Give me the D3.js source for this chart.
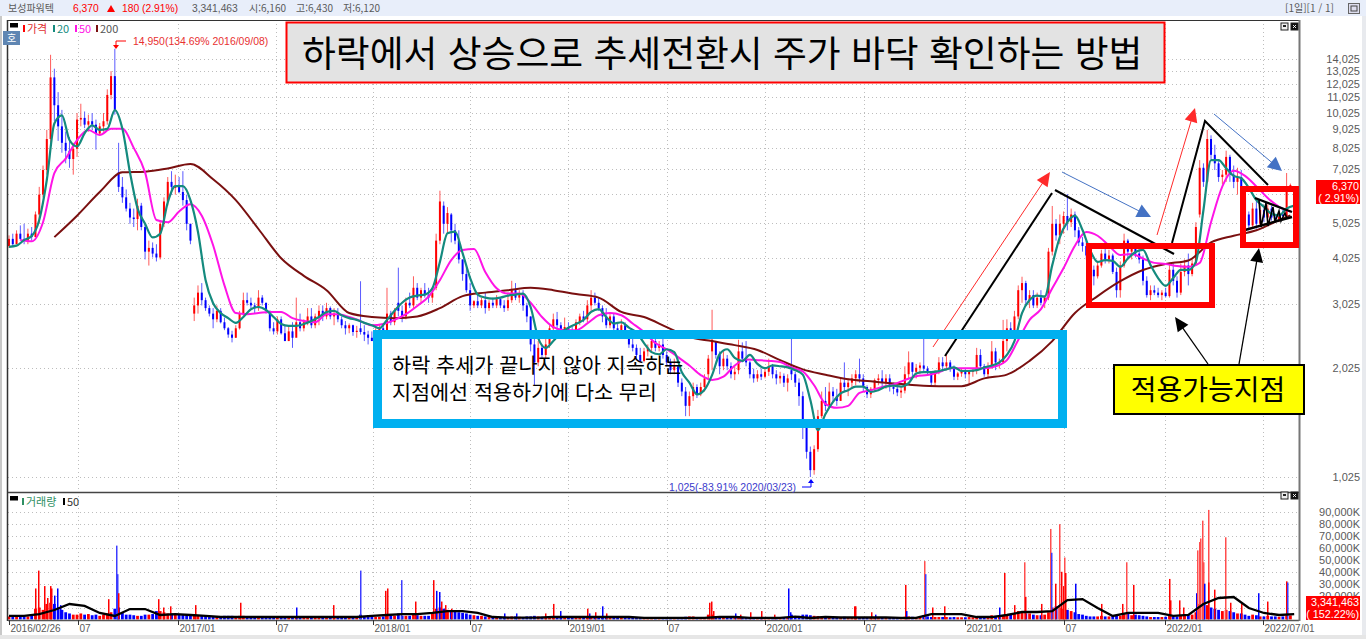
<!DOCTYPE html>
<html lang="ko">
<head>
<meta charset="utf-8">
<script src="https://cdnjs.cloudflare.com/ajax/libs/d3/7.8.5/d3.min.js"></script>
<style>
html,body{margin:0;padding:0;background:#fff;overflow:hidden}
svg{display:block}
text{font-family:"Liberation Sans",sans-serif}
.kr{font-family:"Noto Sans CJK KR",sans-serif}
</style>
</head>
<body>
<svg id="c" width="1366" height="639"></svg>
<script>
// ---------- data: one candle per week-slot, prices in KRW, volume in thousands ----------
const priceTicks=[14025,13025,12025,11025,10025,9025,8025,7025,6025,5025,4025,3025,2025,1025];
const priceLabels=[14025,13025,12025,11025,10025,9025,8025,7025,5025,4025,3025,2025,1025];
const volumeTicks=[90000,80000,70000,60000,50000,40000,30000,20000,10000];
const volumeLabels=[90000,80000,70000,60000,50000,40000,30000,20000];
const dateTickSlots=[0,18.25,44.7,70.6,96.3,122,147.9,174,200,226.2,252.9,279,305.8,331.7];
const dateTickLabels=["2016/02/26","07","2017/01","07","2018/01","07","2019/01","07","2020/01","07","2021/01","07","2022/01","2022/07/01"];

const high=[4650,4700,4800,4950,5000,4850,4900,5400,6300,7200,9000,14400,13200,11400,10200,8900,8600,8300,10000,10600,
10100,9900,10000,9600,9400,10000,11600,13000,14950,8300,6700,6200,5700,5500,5850,5700,5000,4500,4450,4400,
5100,5900,6700,6950,6800,6700,6950,6000,5000,3150,3400,3450,3150,3000,2950,3000,2950,2780,2620,2560,
2650,2900,3250,3250,3150,3050,3300,3200,3050,2900,2700,2800,2800,2650,2650,2700,3150,2850,2750,2950,
2950,2850,3000,3000,3050,2980,2950,2950,2800,2720,2680,2660,2640,3490,2650,2560,2550,2600,2650,2680,
3350,2900,2950,3800,3000,3150,3250,3600,3450,3350,3450,3350,3350,4700,6150,5750,5550,5350,5000,4800,
4000,3800,3450,3100,3200,3150,3250,3100,3150,3200,3150,3100,3250,3500,3450,3300,3300,3050,2800,2500,
2400,2350,2450,2650,2850,2880,2700,2780,2700,2620,2750,2850,2900,3100,3300,3250,3150,3000,2950,2850,
2850,2700,2750,2700,2550,2450,2350,2300,2300,2350,2450,2450,2400,2450,2250,2150,2150,2050,1900,1800,
1750,1850,1830,1850,1950,2200,2920,2400,2250,2250,2200,2100,2050,2420,2380,2400,2120,2020,2000,2020,
2020,2150,2080,2000,1980,1960,1950,2440,1980,1900,1750,1450,1240,1250,1560,1750,1800,1850,1800,1780,
1900,2100,1900,1950,2000,2150,1950,1820,1800,1900,1950,2000,1950,1950,1850,1820,1800,2050,2250,2100,
2080,2100,2450,2050,1990,2000,2170,2170,2200,2130,2060,1980,2020,2020,2000,2020,2300,2280,2080,2100,
2400,2300,2150,2740,2750,2700,2900,3400,3590,3500,3300,3300,3250,3300,3200,4300,5590,5150,5300,5400,
6020,5500,5400,4900,4600,4500,4200,3850,3950,4250,4300,4250,4150,3800,3950,4700,4550,4400,4400,4250,
4100,3600,3400,3400,3350,3300,3350,3900,3900,3600,3900,4000,4150,4000,5050,7450,7300,9000,8700,8200,
7400,7000,7900,7700,7200,7100,7000,6000,5400,5700,5850,5600,5500,5650,5600,5300,5350,5450,6870,6430];
const low=[4300,4350,4400,4500,4400,4400,4500,4600,5000,5900,6800,8300,9500,8400,7800,7300,7100,6800,7600,9200,
9100,8900,9000,7950,8700,8900,9300,10900,9900,6100,5700,5400,5000,4900,4800,4800,4000,3850,4050,3950,
4000,4900,5600,6000,6000,6050,5600,4800,4400,2720,2850,3000,2900,2800,2600,2700,2680,2570,2450,2380,
2450,2580,2800,3000,2950,2850,2900,3000,2850,2550,2500,2500,2500,2400,2400,2300,2500,2550,2550,2650,
2600,2600,2650,2720,2750,2750,2650,2700,2600,2500,2520,2480,2450,2500,2400,2350,2430,2380,2450,2480,
2530,2650,2650,2800,2700,2750,2950,2950,3100,3050,3150,3050,3050,3300,4400,4700,4700,4450,4400,3900,
3500,3250,2900,2950,2950,2950,2850,2900,2950,2950,2950,2880,2900,3050,3100,3050,2900,2700,2250,1820,
2050,2150,2150,2300,2550,2550,2500,2450,2500,2480,2480,2650,2700,2700,2900,3000,2900,2700,2600,2600,
2550,2500,2500,2450,2300,2250,2150,2100,2100,2180,2250,2250,2250,2150,2050,1950,1950,1800,1700,1500,
1500,1650,1680,1700,1750,1900,2000,2150,1950,2000,2000,1900,1880,1950,2100,2050,1900,1850,1860,1880,
1900,1930,1900,1830,1840,1800,1750,1880,1800,1600,1300,1150,1025,1040,1200,1480,1550,1580,1650,1600,
1650,1750,1700,1800,1820,1850,1750,1680,1680,1750,1820,1800,1780,1750,1720,1700,1680,1730,1900,1900,
1900,1950,1980,1930,1800,1800,1950,1980,2000,1980,1880,1880,1920,1900,1820,1920,1950,2000,1920,1900,
2020,2000,2020,2080,2250,2480,2500,2750,3050,3000,2950,2950,2950,3000,2950,3100,4100,4500,4400,4700,
4800,4900,4600,4350,4200,4000,3650,3400,3550,3800,3900,3900,3650,3150,3150,3800,4000,4000,4050,3900,
3400,3150,3100,3200,3150,3100,3150,3150,3400,3150,3200,3600,3400,3600,3850,5200,6300,6450,7500,7000,
6500,6400,6500,6500,6250,6000,5700,5100,4800,4850,4850,4950,5050,5000,5100,5050,5050,5150,5200,6120];
const open=[4350,4550,4400,4700,4550,4500,4700,4600,5300,6000,7000,8500,12500,10500,9200,8300,7900,7500,8000,9600,
9700,9300,9500,9300,8800,9200,9500,11200,12600,6900,6300,5900,5500,5200,5150,5600,4900,4200,4300,4150,
4050,5000,5750,6500,6300,6300,6100,5800,5000,2850,3000,3250,3100,2950,2850,2750,2900,2700,2600,2500,
2450,2600,2850,3100,3050,3000,2950,3150,3050,2900,2600,2550,2750,2520,2400,2550,2450,2700,2600,2700,
2800,2650,2800,2900,2800,2950,2800,2850,2750,2650,2600,2650,2540,2600,2540,2500,2450,2400,2500,2600,
2550,2850,2700,3050,2900,2800,3050,3000,3350,3150,3300,3200,3150,3350,4500,5600,5000,5300,4800,4500,
4000,3650,3300,3000,3080,3000,3100,2950,3050,3000,3120,3000,2950,3100,3300,3150,3200,3000,2800,2350,
2100,2300,2200,2350,2600,2750,2650,2550,2620,2550,2500,2700,2800,2750,3000,3150,3050,2950,2800,2650,
2800,2600,2550,2650,2500,2350,2300,2200,2120,2250,2300,2400,2300,2350,2200,2100,2000,2050,1850,1750,
1600,1700,1800,1720,1800,1950,2250,2400,2200,2050,2150,2050,1950,2000,2250,2150,2100,1950,1900,1950,
1920,1980,2050,1950,1900,1930,1850,2000,1950,1850,1700,1400,1200,1070,1220,1500,1650,1600,1750,1700,
1650,1850,1800,1850,1900,1950,1900,1800,1720,1780,1880,1900,1850,1900,1800,1780,1740,1760,1950,2100,
1980,2030,2060,2020,1980,1850,1980,2100,2050,2100,2020,1920,1960,1990,1950,1980,2000,2200,2050,1950,
2050,2250,2100,2100,2400,2600,2550,2800,3300,3450,3100,3200,3000,3150,3050,3150,4200,5000,4650,5000,
5250,5050,5300,4800,4450,4350,4100,3750,3600,3850,4150,4000,4100,3700,3300,3850,4500,4200,4300,4150,
4000,3500,3200,3300,3250,3200,3250,3180,3750,3500,3250,3700,3850,3650,3900,5300,7100,6500,8500,7700,
7300,6700,6800,7600,6800,6500,6700,5900,5300,4950,5500,5000,5450,5200,5500,5200,5150,5300,5250,6160];
const close=[4550,4400,4700,4550,4500,4700,4600,5300,6000,7000,8500,12500,10500,9200,8300,7900,7500,8000,9600,9700,
9300,9500,9300,8800,9200,9500,11200,12600,10200,6300,5900,5500,5200,5150,5600,4900,4200,4300,4150,4050,
5000,5750,6500,6300,6300,6100,5800,5000,4500,3000,3250,3100,2950,2850,2750,2900,2700,2600,2500,2450,
2600,2850,3100,3050,3000,2950,3150,3050,2900,2600,2550,2750,2520,2400,2550,2450,2700,2600,2700,2800,
2650,2800,2900,2800,2950,2800,2850,2750,2650,2600,2650,2540,2560,2540,2500,2450,2400,2500,2600,2550,
2850,2700,2900,2900,2800,3050,3000,3350,3150,3300,3200,3150,3250,4500,5750,5000,5350,4800,4500,4000,
3650,3300,3000,3080,3000,3100,2950,3050,3000,3120,3000,2950,3100,3300,3150,3200,3000,2800,2350,2100,
2300,2200,2350,2600,2750,2650,2550,2620,2550,2500,2700,2800,2750,3000,3150,3050,2950,2800,2650,2800,
2600,2550,2650,2500,2350,2300,2200,2120,2250,2300,2400,2300,2350,2200,2100,2000,2050,1850,1750,1600,
1700,1800,1720,1800,1900,2150,2420,2200,2050,2150,2050,1950,1980,2250,2150,2100,1950,1900,1950,1920,
1980,2050,1950,1900,1930,1850,1900,1950,1850,1700,1400,1200,1070,1220,1500,1650,1600,1750,1700,1650,
1850,1800,1850,1900,1950,1900,1800,1720,1780,1880,1900,1850,1900,1800,1780,1740,1760,1950,2100,1980,
2030,2060,2020,1980,1850,1980,2100,2050,2100,2020,1920,1960,1990,1950,1980,2000,2200,2050,1950,2050,
2250,2100,2100,2400,2600,2550,2800,3300,3450,3100,3200,3000,3150,3050,3150,4200,5000,4650,5000,5250,
5050,5300,4800,4450,4350,4100,3750,3600,3850,4150,4000,4100,3700,3300,3850,4500,4200,4300,4150,4000,
3500,3200,3300,3250,3200,3250,3180,3750,3500,3250,3700,3850,3650,3900,4900,7100,6500,8500,7700,7300,
6700,6800,7600,6800,6500,6700,5900,5300,4950,5500,5000,5450,5200,5500,5200,5150,5300,5250,6200,6370];

// moving averages, one reading every 2 / 3 / 6 slots
const ma20=[4330,4360,4515,4630,5120,6575,9370,9860,8445,8110,8810,9260,9000,9060,10190,9060,6900,5510,5000,4590,
4700,5720,6330,6330,5800,4750,3515,3040,2860,2770,2690,2790,2930,2970,2915,2790,2670,2640,2640,2670,
2720,2790,2880,2900,2820,2770,2740,2690,2650,2600,2740,2900,3050,3150,3190,3210,3340,3940,4710,4760,
4160,3560,3210,3150,3130,3150,3190,3210,3230,2970,2445,2300,2400,2530,2610,2670,2740,2880,2930,2790,
2680,2700,2610,2530,2370,2240,2210,2280,2240,1975,1850,1720,1770,1940,2210,2280,2160,2120,2200,2080,
2025,2060,2050,2035,2000,1945,1660,1375,1520,1640,1730,1765,1805,1805,1745,1765,1805,1815,1805,1845,
1960,1975,1975,1990,2010,2035,1990,1990,2000,2035,2060,2100,2200,2400,2860,3105,3190,3170,3860,4600,
5050,5260,4810,4245,3940,3985,3965,3820,4025,4190,4245,3860,3560,3390,3560,3745,3745,3940,5450,7450,
7450,7080,6750,6650,6260,5800,5560,5320,5270,5500,5600];
const ma50=[4515,4480,5050,6870,7520,8445,8990,8720,9060,9060,8040,6900,5120,5050,5400,5650,5260,4370,3400,2860,
2840,2860,2880,2880,2770,2720,2700,2840,2840,2790,2720,2650,2670,2740,2840,2990,3170,3515,3985,4245,
4270,3700,3340,3230,3230,3050,2790,2620,2570,2570,2680,2820,2860,2820,2680,2540,2370,2280,2170,2060,
1940,1880,1920,2060,2140,2130,2120,2105,2035,1985,1820,1620,1580,1600,1735,1765,1800,1830,1880,1925,
1940,1975,2025,2025,2025,2025,2050,2130,2415,2740,2930,3340,3790,4360,4750,4640,4360,4115,4140,4025,
3915,3890,3840,3820,3915,5050,6320,6970,6750,6320,5880,5560,5400];
const ma200=[4600,5260,6100,6900,6930,7070,7270,6610,5800,4840,4030,3610,3300,2860,2790,2770,2800,2950,3180,3250,
3300,3350,3300,3220,3150,2880,2790,2620,2460,2400,2340,2270,2130,2010,1945,1890,1865,1840,1820,1810,
1810,1900,1945,2120,2400,2860,3180,3490,3745,3890,3975,4450,4640,4800,5120];
const ma200Last=5270;

// weekly base volume (thousand shares)
const volume=[2500,2000,2000,3000,2500,2500,3000,9000,10000,8000,13000,14000,13000,10000,8000,6000,5000,4000,4000,5000,
4000,4500,3500,4000,3000,4000,5000,6000,9000,10000,6000,4000,4000,3500,3000,3000,4000,4000,4500,7000,
7000,6000,5000,5000,4000,4000,4000,3000,3000,4000,3500,3000,3000,2500,2500,2500,2500,3000,3000,3000,
2500,3000,3000,2500,2500,2500,2200,2000,2000,2200,2000,2200,2000,2000,2000,2000,2500,2200,2000,2000,
2000,2200,2000,2000,2000,2000,2200,2000,2000,2000,2000,2000,2000,4000,2500,2000,2000,2000,2200,2500,
4000,3000,3000,5000,3000,3000,3000,4000,3500,3000,3000,3000,6000,9000,10000,9000,8000,7000,7000,6000,
5500,5000,4000,3500,3000,3000,2500,2500,2500,2500,2200,2200,2200,2500,2500,2200,2000,2500,2500,3000,
2500,2200,2000,2000,2200,2000,2000,2000,2500,2000,2000,2200,2000,2500,2200,2000,2000,2000,2200,2000,
2000,2000,2000,2000,1800,1800,1800,1800,2000,1800,1800,1800,1800,1800,1800,2000,1800,1800,1800,2200,
2500,2500,2000,2000,2000,4000,4000,2800,2200,2000,1800,2000,2000,2500,2000,2000,1800,1800,2000,1800,
1800,1800,2000,1800,1800,1800,1800,4000,2500,3000,4000,4000,3500,3000,2800,2500,2200,2200,2000,2000,
2000,2200,2000,2000,1800,2000,2000,1800,1800,2000,2000,2000,2000,1800,1800,1800,1800,2200,2500,2200,
2000,2000,3500,2500,2000,2000,2000,2000,2000,1800,2000,1800,1800,1800,2000,1800,2000,2000,2000,2000,
3500,3000,2500,3000,3500,4000,4500,7000,6000,5000,5000,4000,3500,3500,4000,6000,10000,11000,10000,9000,
8000,7000,6000,4500,4000,3000,2500,2500,2500,3000,2500,2500,3000,3500,3000,4500,5000,3500,4000,3500,
3000,2500,2000,2000,2000,2000,2200,3500,2500,2500,3000,3500,4000,4000,6000,13000,11000,12000,10000,9000,
8000,7000,8000,7000,6000,5000,5000,4000,3000,4000,3500,2500,2500,3000,2500,2500,2200,2500,3300,3341];
const volume50=[2900,2900,4500,7900,12900,11300,5400,2900,8700,8700,3700,4500,3700,2900,2000,2000,2000,2000,2000,2000,
2000,2000,2000,2000,2900,3700,4500,4500,5400,7000,7000,5400,2000,1500,1500,1500,2000,2000,2000,2000,
2000,2000,1200,1200,1200,1200,1200,2000,2000,1200,1200,1200,2400,1200,2000,1600,1600,1600,1600,1200,
1200,4500,4500,4500,2000,2000,3700,6200,6200,7000,16300,17100,9600,2900,5400,5400,5400,2900,3700,12900,
18000,18800,9600,5400,3700,4500];
// isolated volume spikes: slot, volume, 1 when the session closed up
const spikeSlot=[6.9,7.7,9.3,10,10.8,11.2,11.9,12.7,13.5,26.2,28.3,28.6,28.8,39.4,40.7,42.6,49.2,61.1,75.9,85.7,
92.9,100,99.6,103.7,107.4,112.2,113,113.8,114.3,115.3,117,131,134,141.8,144,145.8,153,153.5,155,156.8,
158,185.2,185.8,186.3,192,193.5,196,199,202.3,206.2,206.6,223.5,223.9,228,229.1,237,237.3,242,242.3,244.3,
247.3,261.8,263.3,266,268.4,268.9,273,275.5,275.7,276.6,277.7,278.2,278.9,279.2,279.4,281.9,288.9,294.5,295.6,297.4,
307,307.2,309.6,310.7,314,314.3,314.9,315.2,315.7,316,316.2,317.1,317.3,318.9,321.7,323.1,325.9,330.5,332.7,337.8,338.2];
const spikeVol=[26000,41000,28000,18000,28000,26000,20000,26000,12000,17000,62000,38000,22000,17000,10000,11000,12000,14000,10000,12000,
41000,26000,24000,33000,15000,33000,24000,23000,15000,12000,9000,5000,5000,5000,13000,7000,9000,5000,6000,11000,
5000,14000,15000,7000,5000,4000,6000,7000,4000,26000,6000,11000,11000,6000,4000,29000,7000,49000,38000,10000,
11000,10000,39000,12000,48000,19000,13000,76000,56000,30000,80000,40000,28000,52000,39000,30000,13000,13000,48000,29000,
34000,16000,16000,10000,22000,58000,65000,68000,83000,48000,30000,92000,31000,25000,69000,14000,13000,22000,15000,32000,31000];
const spikeUp=[1,1,1,1,1,1,0,0,0,1,0,0,1,1,1,1,1,1,0,1,
0,1,1,0,1,1,0,0,1,1,1,0,0,1,1,0,1,0,1,0,
1,1,1,1,0,1,1,1,1,0,0,1,1,1,0,1,0,1,0,1,
1,0,1,1,1,1,1,1,0,1,1,1,1,1,1,0,1,1,1,1,
1,1,1,1,0,1,1,1,1,1,0,1,1,1,1,1,1,0,1,1,0];

// ---------- layout ----------
const svg=d3.select("#c");
const RED="#ff0000",BLUE="#0000ff",GREY="#5a5a5a";
const left=8,right=1299,priceTop=20,priceBot=492,volBot=620;

const x=d3.scaleLinear().domain([0,339]).range([9,1290.4]);
const y=d3.scaleLog().domain([14025,1025]).range([59,477]);
const yVol=d3.scaleLinear().domain([0,90000]).range([619.4,512.3]);

// chrome
svg.append("rect").attr("width",1366).attr("height",639).attr("fill","#fff");
svg.append("rect").attr("width",1366).attr("height",16).attr("fill","#e8eefa");
svg.append("rect").attr("x",0).attr("y",16).attr("width",2).attr("height",623).attr("fill","#c8c8c8");
svg.append("rect").attr("x",1362).attr("y",16).attr("width",4).attr("height",623).attr("fill","#e8eaee");
svg.append("rect").attr("x",0).attr("y",635).attr("width",1366).attr("height",4).attr("fill","#e6e6e6");

// grid
const grid=svg.append("g").attr("stroke","#bdbdbd").attr("stroke-dasharray","1,3").attr("stroke-width",1);
grid.selectAll(".h").data(priceTicks).join("line").attr("class","h").attr("x1",left).attr("x2",right)
  .attr("y1",d=>Math.round(y(d))+.5).attr("y2",d=>Math.round(y(d))+.5);
grid.selectAll(".hv").data(volumeTicks).join("line").attr("class","hv").attr("x1",left).attr("x2",right)
  .attr("y1",d=>Math.round(yVol(d))+.5).attr("y2",d=>Math.round(yVol(d))+.5);
grid.selectAll(".v").data(dateTickSlots.slice(1)).join("line").attr("class","v")
  .attr("x1",d=>Math.round(x(d))+.5).attr("x2",d=>Math.round(x(d))+.5).attr("y1",priceTop).attr("y2",volBot);

// clip regions
const defs=svg.append("defs");
defs.append("clipPath").attr("id","pc").append("rect").attr("x",left).attr("y",priceTop).attr("width",right-left).attr("height",priceBot-priceTop);
defs.append("clipPath").attr("id","vc").append("rect").attr("x",left).attr("y",priceBot).attr("width",right-left).attr("height",volBot-priceBot);

// candles
const slots=d3.range(high.length);
const plot=svg.append("g").attr("clip-path","url(#pc)");
const isUp=i=>close[i]>=open[i];
plot.append("g").selectAll("line").data(slots).join("line")
  .attr("x1",i=>x(i)).attr("x2",i=>x(i)).attr("y1",i=>y(high[i])).attr("y2",i=>y(low[i]))
  .attr("stroke",i=>isUp(i)?"#ff5a5a":"#5a5aff").attr("stroke-width",1);
plot.append("g").selectAll("rect").data(slots).join("rect")
  .attr("x",i=>x(i)-1).attr("width",2)
  .attr("y",i=>Math.min(y(open[i]),y(close[i])))
  .attr("height",i=>Math.max(1,Math.abs(y(open[i])-y(close[i]))))
  .attr("fill",i=>isUp(i)?RED:BLUE);

// moving averages
function maLine(values,step,start,color,sw,last){
  const pts=values.map((v,k)=>[start+k*step,v]);
  if(last!==undefined) pts.push(last);
  const gen=d3.line().x(d=>x(d[0])).y(d=>y(d[1])).curve(d3.curveMonotoneX);
  plot.append("path").attr("d",gen(pts)).attr("fill","none").attr("stroke",color).attr("stroke-width",sw).attr("stroke-linejoin","round");
}
maLine(ma200,6,12,"#7a1010",2,[339,ma200Last]);
maLine(ma50,3,3,"#ff14e6",2);
maLine(ma20,2,0,"#148a7e",2.2);

// volume
const vol=svg.append("g").attr("clip-path","url(#vc)");
vol.append("g").selectAll("rect").data(slots).join("rect")
  .attr("x",i=>x(i)-1.4).attr("width",2.8)
  .attr("y",i=>yVol(volume[i])).attr("height",i=>yVol(0)-yVol(volume[i]))
  .attr("fill",i=>isUp(i)?RED:BLUE);
vol.append("g").selectAll("rect").data(d3.range(spikeSlot.length)).join("rect")
  .attr("x",k=>Math.round(x(spikeSlot[k]))).attr("width",1.5)
  .attr("y",k=>yVol(spikeVol[k])).attr("height",k=>yVol(0)-yVol(spikeVol[k]))
  .attr("fill",k=>spikeUp[k]?(spikeVol[k]>45000?"#ff4d4d":RED):(spikeVol[k]>30000?"#3c3cff":BLUE));
vol.append("path").attr("fill","none").attr("stroke","#000").attr("stroke-width",2.3)
  .attr("d",d3.line().x((d,k)=>x(k*4)).y(d=>yVol(d))(volume50));

// frame
const frame=svg.append("g");
frame.append("line").attr("x1",left-.5).attr("x2",left-.5).attr("y1",priceTop).attr("y2",volBot+1).attr("stroke","#333").attr("stroke-width",1.5);
frame.append("line").attr("x1",left).attr("x2",right).attr("y1",priceTop+.5).attr("y2",priceTop+.5).attr("stroke","#333");
frame.append("line").attr("x1",left).attr("x2",right).attr("y1",priceBot+.5).attr("y2",priceBot+.5).attr("stroke","#444").attr("stroke-width",1.3);
frame.append("line").attr("x1",left).attr("x2",right).attr("y1",volBot+.5).attr("y2",volBot+.5).attr("stroke","#555").attr("stroke-width",1.5);
frame.append("line").attr("x1",right+.5).attr("x2",right+.5).attr("y1",priceTop).attr("y2",volBot+1).attr("stroke","#777").attr("stroke-width",2);

// axes
const axisFont=11;
const axisFamily='"Liberation Sans Narrow","Liberation Sans",sans-serif';
const yAxis=d3.axisRight(y).tickValues(priceLabels).tickFormat(d3.format(",")).tickSize(0).tickPadding(0);
svg.append("g").attr("transform","translate(1360,0)").call(yAxis).call(g=>{
  g.select(".domain").remove();
  g.selectAll("text").attr("text-anchor","end").attr("fill",GREY).attr("font-size",axisFont).style("font-family",axisFamily);
});
const yVolAxis=d3.axisRight(yVol).tickValues(volumeLabels).tickFormat(d=>d3.format(",")(d)+"K").tickSize(0).tickPadding(0);
svg.append("g").attr("transform","translate(1360,0)").call(yVolAxis).call(g=>{
  g.select(".domain").remove();
  g.selectAll("text").attr("text-anchor","end").attr("fill",GREY).attr("font-size",axisFont).style("font-family",axisFamily);
});
const xAxisG=svg.append("g");
dateTickSlots.forEach((s,k)=>{
  const px=Math.round(x(s));
  xAxisG.append("line").attr("x1",px+.5).attr("x2",px+.5).attr("y1",volBot).attr("y2",volBot+5).attr("stroke","#333");
  xAxisG.append("text").attr("x",px+1.5).attr("y",volBot+12).attr("font-size",10).attr("fill",GREY).text(dateTickLabels[k]);
});

// current value boxes
function valueBox(bx,by,bw,bh,l1,l2){
  svg.append("rect").attr("x",bx).attr("y",by).attr("width",bw).attr("height",bh).attr("fill",RED);
  svg.append("text").attr("x",bx+bw-1).attr("y",by+10).attr("text-anchor","end").attr("fill","#fff").attr("font-size",10.8).text(l1);
  svg.append("text").attr("x",bx+bw-1).attr("y",by+21.5).attr("text-anchor","end").attr("fill","#fff").attr("font-size",10.8).text(l2);
}
valueBox(1316,180,44,24,"6,370","( 2.91%)");
valueBox(1306,596,54,24,"3,341,463","( 152.22%)");

// header
const head=svg.append("g").attr("font-size",10.3);
head.append("text").attr("class","kr").attr("x",8).attr("y",12).attr("fill",GREY).attr("font-size",10).text("보성파워텍");
head.append("text").attr("x",73).attr("y",12).attr("fill",RED).text("6,370");
head.append("path").attr("d","M107,12 L115,12 L111,5 Z").attr("fill",RED);
head.append("text").attr("x",122).attr("y",12).attr("fill",RED).text("180 (2.91%)");
head.append("text").attr("x",192).attr("y",12).attr("fill",GREY).text("3,341,463");
head.append("text").attr("class","kr").attr("x",249).attr("y",12).attr("fill",GREY).attr("font-size",10).text("시:6,160");
head.append("text").attr("class","kr").attr("x",296).attr("y",12).attr("fill",GREY).attr("font-size",10).text("고:6,430");
head.append("text").attr("class","kr").attr("x",343).attr("y",12).attr("fill",GREY).attr("font-size",10).text("저:6,120");
head.append("text").attr("class","kr").attr("x",1285).attr("y",12).attr("fill",GREY).attr("font-size",10).text("[1일][1 / 1]");
svg.append("rect").attr("x",1348.5).attr("y",3.5).attr("width",11).attr("height",10).attr("fill","#dde").attr("stroke","#666");
svg.append("rect").attr("x",1351).attr("y",6).attr("width",6).attr("height",5).attr("fill","none").attr("stroke","#444");

// legends
svg.append("rect").attr("x",10).attr("y",23).attr("width",8).attr("height",4.5).attr("fill","#000");
svg.append("rect").attr("x",10).attr("y",496).attr("width",8).attr("height",4.5).attr("fill","#000");
const legend=(lx,ly,col,t,fontCol)=>{
  svg.append("rect").attr("x",lx).attr("y",ly-8).attr("width",2).attr("height",7).attr("fill",col);
  svg.append("text").attr("class","kr").attr("x",lx+4).attr("y",ly).attr("font-size",11).attr("fill",fontCol||col).text(t);
};
legend(23,33,RED,"가격","#e03030");
legend(53,33,"#148a7e","20");
legend(75,33,"#ff14e6","50");
legend(96,33,"#7a1010","200","#555");
legend(22,506,"#2f8f63","거래량");
legend(63,506,"#000","50","#333");
svg.append("rect").attr("x",3).attr("y",31).attr("width",17).attr("height",14).attr("fill","#5f86b3");
svg.append("text").attr("class","kr").attr("x",11.5).attr("y",42).attr("text-anchor","middle").attr("font-size",10).attr("fill","#fff").text("호");

// window buttons
[[1281,22],[1281,491]].forEach(([bx,by])=>{
  svg.append("rect").attr("x",bx).attr("y",by+1).attr("width",7).attr("height",7).attr("fill","#eee").attr("stroke","#222");
  svg.append("rect").attr("x",bx+2).attr("y",by+3).attr("width",3).attr("height",2).attr("fill","#222");
  svg.append("rect").attr("x",bx+10).attr("y",by+1).attr("width",7).attr("height",7).attr("fill","#111").attr("stroke","#222");
  svg.append("path").attr("d",`M${bx+12},${by+3}l3,3m0,-3l-3,3`).attr("stroke","#fff").attr("stroke-width",.9);
});

// high / low call-outs
svg.append("path").attr("d","M126,41 H116 V46").attr("fill","none").attr("stroke",RED);
svg.append("path").attr("d","M113,45 h6 l-3,4 z").attr("fill",RED);
svg.append("text").attr("x",133).attr("y",45).attr("font-size",10.45).attr("fill","#e83030").text("14,950(134.69% 2016/09/08)");
svg.append("path").attr("d","M802,487 H811 V482").attr("fill","none").attr("stroke",BLUE);
svg.append("path").attr("d","M808,483 h6 l-3,-4 z").attr("fill",BLUE);
svg.append("text").attr("x",669).attr("y",491).attr("font-size",10.45).attr("fill","#3a3acc").text("1,025(-83.91% 2020/03/23)");

// ---------- hand-drawn overlay ----------
const over=svg.append("g");
function seg(pts,color,sw){over.append("polyline").attr("points",pts.join(" ")).attr("fill","none").attr("stroke",color).attr("stroke-width",sw);}
function arrow(x1,y1,x2,y2,color,sw,len,wid){
  const a=Math.atan2(y2-y1,x2-x1),ca=Math.cos(a),sa=Math.sin(a);
  seg([[x1,y1],[x2-ca*len*.8,y2-sa*len*.8]],color,sw);
  const bx=x2-ca*len,by=y2-sa*len;
  over.append("polygon").attr("points",[[x2,y2],[bx-sa*wid/2,by+ca*wid/2],[bx+sa*wid/2,by-ca*wid/2]].join(" ")).attr("fill",color);
}
seg([[945,356],[1052,193]],"#000",2);
seg([[1055,190],[1174,254]],"#000",2);
seg([[1172,243],[1205,121],[1268,185]],"#000",2);
seg([[1255,198],[1292,212]],"#000",2.4);
seg([[1245,230],[1292,217]],"#000",2.4);
seg([[1259,200],[1261,227],[1266,203],[1268,226],[1273,207],[1275,222],[1279,211],[1281,221],[1285,213],[1287,219]],"#000",1.6);
arrow(933,347,1050,172,"#ff2a2a",1,14,13);
arrow(1157,235,1195,108,"#ff2a2a",1,14,13);
arrow(1062,172,1151,217,"#4472c4",1,14,14);
arrow(1214,114,1282,171,"#4472c4",1,14,14);

over.append("rect").attr("x",286.5).attr("y",22.5).attr("width",878).attr("height",60).attr("fill","#e3e3e3").attr("stroke",RED).attr("stroke-width",2);
over.append("text").attr("class","kr").attr("x",302).attr("y",67).attr("font-size",36.8).attr("fill","#000").text("하락에서 상승으로 추세전환시 주가 바닥 확인하는 방법");

over.append("rect").attr("x",377.5).attr("y",334.5).attr("width",685).attr("height",89).attr("fill","none").attr("stroke","#00b0f0").attr("stroke-width",9);
over.append("text").attr("class","kr").attr("x",392).attr("y",373).attr("font-size",20.8).attr("fill","#000").text("하락 추세가 끝나지 않아 지속하는");
over.append("text").attr("class","kr").attr("x",392).attr("y",400).attr("font-size",20.7).attr("fill","#000").text("지점에선 적용하기에 다소 무리");

over.append("rect").attr("x",1089).attr("y",246).attr("width",123).attr("height",59).attr("fill","none").attr("stroke",RED).attr("stroke-width",6);
over.append("rect").attr("x",1243).attr("y",189).attr("width",53).attr("height",56).attr("fill","none").attr("stroke",RED).attr("stroke-width",6);

arrow(1208,364,1175,317,"#000",1.3,14,13);
arrow(1239,364,1259,248,"#000",1.3,14,13);
over.append("rect").attr("x",1114).attr("y",365).attr("width",190).attr("height",49).attr("fill","#ffff00").attr("stroke","#000").attr("stroke-width",2);
over.append("text").attr("class","kr").attr("x",1208).attr("y",400).attr("text-anchor","middle").attr("font-size",28).attr("fill","#000").text("적용가능지점");
</script>
</body>
</html>
